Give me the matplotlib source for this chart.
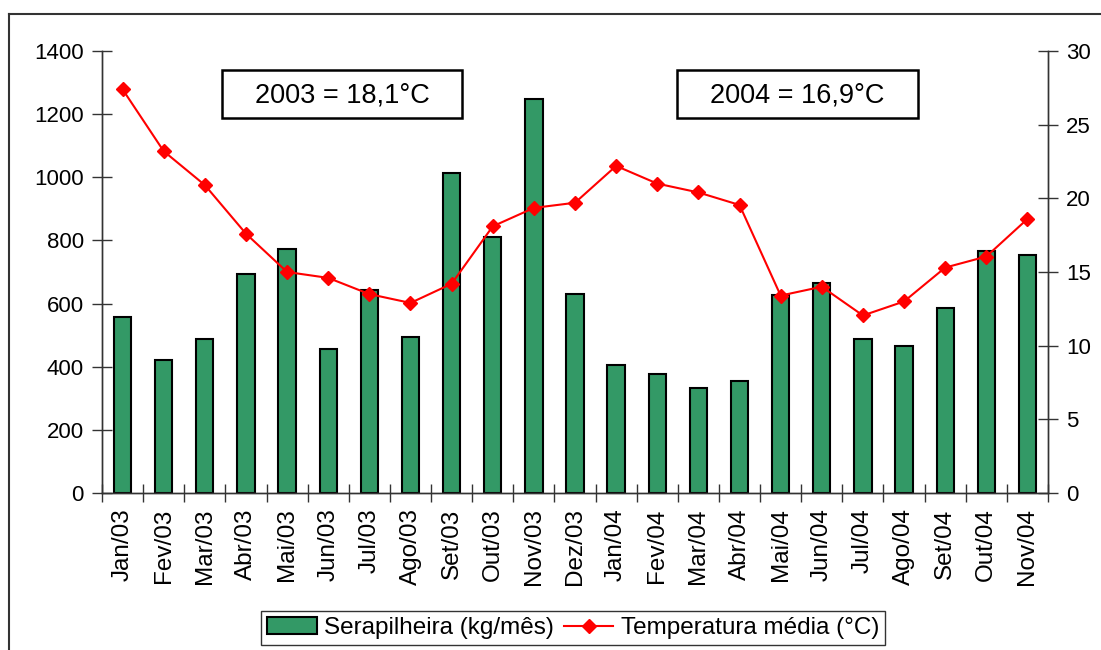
import numpy as np
import matplotlib
matplotlib.use("Agg")
import matplotlib.pyplot as plt
from matplotlib.lines import Line2D
from matplotlib.patches import Patch, Rectangle

plt.rcParams['font.family'] = ['Liberation Sans', 'DejaVu Sans']

# data
meses = ["Jan/03", "Fev/03", "Mar/03", "Abr/03", "Mai/03", "Jun/03", "Jul/03",
         "Ago/03", "Set/03", "Out/03", "Nov/03", "Dez/03", "Jan/04", "Fev/04",
         "Mar/04", "Abr/04", "Mai/04", "Jun/04", "Jul/04", "Ago/04", "Set/04",
         "Out/04", "Nov/04"]
serapilheira = [557, 421, 489, 693, 772, 456, 643, 495, 1015, 811, 1247, 630,
                405, 377, 331, 355, 626, 665, 489, 467, 585, 766, 755]
temperatura = [27.4, 23.2, 20.9, 17.6, 15.0, 14.6, 13.5, 12.9, 14.2, 18.1, 19.35, 19.7,
               22.2, 21.0, 20.4, 19.55, 13.4, 14.0, 12.05, 13.0, 15.3, 16.05, 18.6]
media_2003 = "2003 = 18,1°C"
media_2004 = "2004 = 16,9°C"

verde = "#339966"
W, H = 1101, 650

fig = plt.figure(figsize=(W / 100, H / 100), dpi=100)
ax = fig.add_axes([102 / W, 1 - 493 / H, 946 / W, 442 / H])
x = np.arange(len(meses))

ax.bar(x, serapilheira, width=0.42, color=verde, edgecolor="black", linewidth=1.5, zorder=2)
ax.set_xlim(-0.5, len(meses) - 0.5)
ax.set_ylim(0, 1400)
ax.set_yticks(range(0, 1401, 200))
ax.set_xticks(x)
ax.set_xticklabels(meses, rotation=90, fontsize=17.5)
ax.set_xticks(np.arange(-0.5, len(meses)), minor=True)
ax.tick_params(axis="x", which="major", length=0, pad=11)
ax.tick_params(axis="x", which="minor", direction="inout", length=13, width=1, color="#333333")
ax.tick_params(axis="y", direction="inout", length=14, width=1, labelsize=16, pad=6, color="#333333")
ax.spines["top"].set_visible(False)
for s in ["left", "right", "bottom"]:
    ax.spines[s].set_color("#333333")
    ax.spines[s].set_linewidth(1)

ax2 = ax.twinx()
ax2.plot(x, temperatura, color="red", linewidth=1.5, marker="D", markersize=7.5, zorder=3)
ax2.set_ylim(0, 30)
ax2.set_yticks(range(0, 31, 5))
ax2.tick_params(axis="y", direction="inout", length=14, width=1, labelsize=16, pad=6, color="#333333")
ax2.spines["top"].set_visible(False)
for s in ["left", "right", "bottom"]:
    ax2.spines[s].set_color("#333333")
    ax2.spines[s].set_linewidth(1)

# annotation boxes with yearly means
for x0, x1, txt in [(222, 462, media_2003), (677, 918, media_2004)]:
    fig.add_artist(Rectangle((x0 / W, 1 - 118 / H), (x1 - x0) / W, 48 / H,
                             facecolor="white", edgecolor="black", linewidth=1.8,
                             transform=fig.transFigure, zorder=5))
    fig.text((x0 + x1) / 2 / W, 1 - 95 / H, txt, fontsize=19.5, ha="center", va="center", zorder=6)

handles = [Patch(facecolor=verde, edgecolor="black", linewidth=1.5),
           Line2D([], [], color="red", linewidth=1.5, marker="D", markersize=7.5)]
leg = fig.legend(handles, ["Serapilheira (kg/mês)", "Temperatura média (°C)"],
                 ncol=2, loc="center", bbox_to_anchor=(573 / W, 1 - 628 / H),
                 fontsize=17.5, frameon=True, fancybox=False, handlelength=2.05,
                 handletextpad=0.3, columnspacing=0.4, borderpad=0.25)
leg.get_frame().set_edgecolor("black")
leg.get_frame().set_linewidth(1)

# outer chart frame
fig.add_artist(Line2D([9 / W, 9 / W], [0, 1 - 14 / H], color="#333333", linewidth=1.5))
fig.add_artist(Line2D([9 / W, 1], [1 - 14 / H, 1 - 14 / H], color="#333333", linewidth=1.5))

fig.savefig("out.png", dpi=100)
